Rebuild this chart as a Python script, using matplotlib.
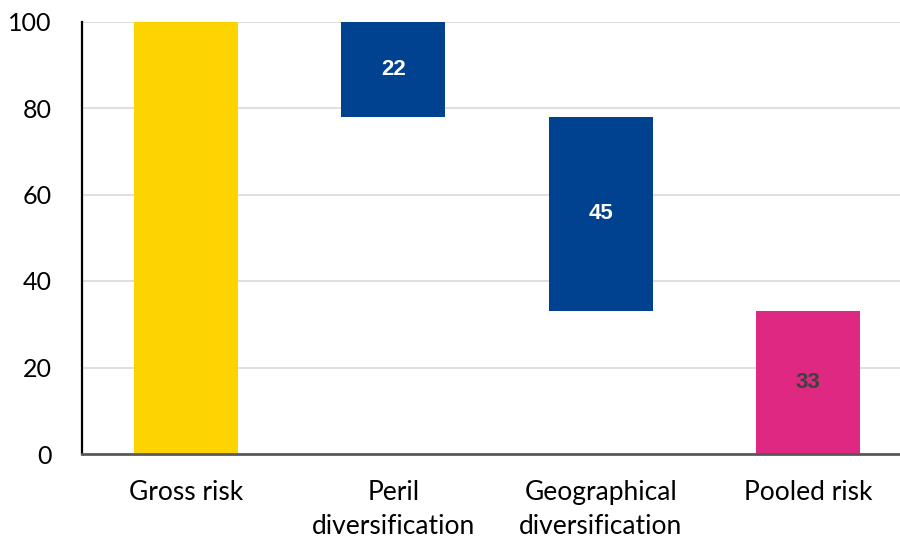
import matplotlib.pyplot as plt

# waterfall: gross risk reduced by two diversification effects
categories = ['Gross risk', 'Peril\ndiversification', 'Geographical\ndiversification', 'Pooled risk']
values = [100, 22, 45, 33]
bottoms = [0, 78, 33, 0]
colors = ['#FDD400', '#00428F', '#00428F', '#DE2882']
label_colors = [None, 'white', 'white', '#404040']

fig = plt.figure(figsize=(9, 5.43), dpi=100)
ax = fig.add_axes([82 / 900, 89 / 543, 830 / 900, 432.5 / 543])

x = range(len(categories))
ax.bar(x, values, bottom=bottoms, width=0.5, color=colors, zorder=3)

for i, v in enumerate(values):
    if label_colors[i] is None:
        continue
    ax.text(i, bottoms[i] + v / 2, str(v), ha='center', va='center',
            fontsize=16, fontweight='bold', color=label_colors[i],
            family='Liberation Sans', zorder=4)

ax.set_xlim(-0.5, 3.5)
ax.set_ylim(0, 100)
ax.set_yticks([0, 20, 40, 60, 80, 100])
ax.set_xticks(list(x))
ax.set_xticklabels(categories, fontsize=19, family='Lato', linespacing=1.45)
for t in ax.get_yticklabels():
    t.set_fontsize(18)
    t.set_family('Lato')

ax.tick_params(axis='y', length=0, pad=22)
ax.tick_params(axis='x', length=0, pad=19)
ax.grid(axis='y', color='#D9D9D9', linewidth=1.2, zorder=0)

for s in ['top', 'right']:
    ax.spines[s].set_visible(False)
ax.spines['left'].set_color('black')
ax.spines['left'].set_linewidth(1.6)
ax.spines['bottom'].set_color('#595959')
ax.spines['bottom'].set_linewidth(2)
ax.spines['left'].set_zorder(5)
ax.spines['bottom'].set_zorder(5)

fig.savefig('out.png', dpi=100)
